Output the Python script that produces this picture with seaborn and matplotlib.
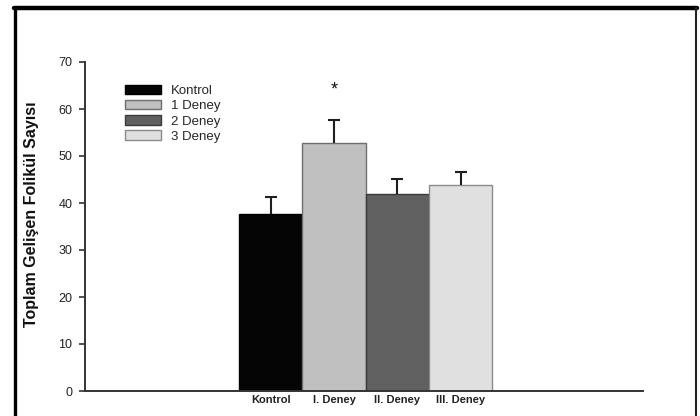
import matplotlib
matplotlib.use("Agg")
import matplotlib.pyplot as plt
import seaborn as sns
import pandas as pd
import numpy as np
from matplotlib.lines import Line2D

# ---- data ----
categories = ["Kontrol", "I. Deney", "II. Deney", "III. Deney"]
legend_labels = ["Kontrol", "1 Deney", "2 Deney", "3 Deney"]
values = [37.7, 52.8, 42.0, 43.9]
errors = [3.5, 4.9, 3.1, 2.7]
bar_colors = ["#050505", "#c0c0c0", "#606060", "#e0e0e0"]
edge_colors = ["#000000", "#6e6e6e", "#3a3a3a", "#8a8a8a"]
y_ticks = [0, 10, 20, 30, 40, 50, 60, 70]
y_label = "Toplam Gelişen Folikül Sayısı"

sns.set_style("white")
plt.rcParams["font.family"] = ["Liberation Sans", "DejaVu Sans"]

W, H = 700, 416
fig = plt.figure(figsize=(7, 4.16), dpi=100)
ax = fig.add_axes([85 / W, 1 - 391 / H, (643 - 85) / W, (391 - 62) / H])

df = pd.DataFrame({"grup": categories, "etiket": legend_labels, "deger": values})
sns.barplot(data=df, x="grup", y="deger", hue="etiket", order=categories,
            hue_order=legend_labels, palette=bar_colors, dodge=False, width=1.0,
            errorbar=None, linewidth=1.0, ax=ax, legend=True)

for p, ec in zip(ax.patches[:4], edge_colors):
    p.set_edgecolor(ec)

eb = ax.errorbar(x=np.arange(len(values)), y=values,
                 yerr=[np.zeros(len(errors)), errors], fmt="none",
                 ecolor="#1e1e1e", elinewidth=1.5, capsize=4.3, capthick=1.5, zorder=3)
# keep only the upper caps
caplines = eb[1]
if len(caplines) >= 2:
    caplines[0].set_visible(False)

# asterisk
ax.text(1, 64.0, "*", ha="center", va="center", fontsize=13, color="#111111")

# axes
ax.set_xlim(-2.933, 5.882)
ax.set_ylim(0, 70)
ax.set_yticks(y_ticks)
ax.set_yticklabels([str(t) for t in y_ticks], fontsize=9, color="#222222")
ax.set_xticks(range(len(categories)))
ax.set_xticklabels(categories, fontsize=8, fontweight="bold", color="#222222")
ax.set_xticks([1.5, 5.882], minor=True)
ax.tick_params(axis="x", which="major", length=0, pad=3)
ax.tick_params(axis="x", which="minor", length=5, width=1.4, color="#333333", direction="out")
ax.tick_params(axis="y", which="major", length=4, width=1.2, color="#333333", pad=5, left=True)
ax.set_xlabel("")
ax.set_ylabel("")
for s in ["top", "right"]:
    ax.spines[s].set_visible(False)
for s in ["left", "bottom"]:
    ax.spines[s].set_color("#333333")
    ax.spines[s].set_linewidth(1.4)
ax.set_facecolor("white")

fig.text(32 / W, 1 - 214 / H, y_label, rotation=90, ha="center", va="center",
         fontsize=11.5, fontweight="bold", color="#111111")

# legend
handles, labels = ax.get_legend_handles_labels()
if ax.get_legend() is not None:
    ax.get_legend().remove()
for h, ec in zip(handles, edge_colors):
    h.set_edgecolor(ec)
    h.set_linewidth(1.0)
fig.legend(handles, labels, loc="upper left", bbox_to_anchor=(125 / W, 1 - 85 / H),
           bbox_transform=fig.transFigure, frameon=False, fontsize=9.5,
           handlelength=2.7, handleheight=0.7, handletextpad=0.8,
           labelspacing=0.22, borderpad=0, borderaxespad=0)

# outer frame
fig.add_artist(Line2D([14 / W, 697 / W], [1 - 7.5 / H, 1 - 7.5 / H], transform=fig.transFigure,
                      color="black", linewidth=3.2))
fig.add_artist(Line2D([15.5 / W, 15.5 / W], [0, 1 - 7.5 / H], transform=fig.transFigure,
                      color="black", linewidth=2.4))
fig.add_artist(Line2D([695.5 / W, 695.5 / W], [0, 1 - 7.5 / H], transform=fig.transFigure,
                      color="#222222", linewidth=1.5))

fig.savefig("out.png", dpi=100, facecolor="white")
